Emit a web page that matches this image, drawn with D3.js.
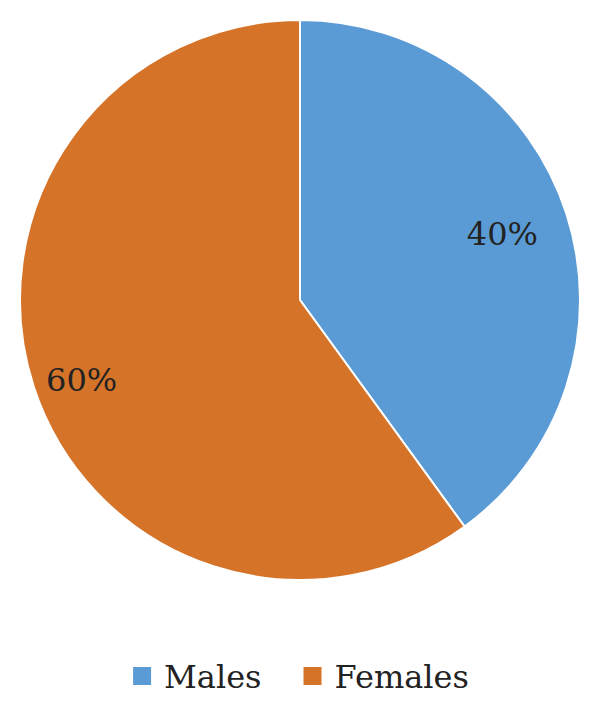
<!DOCTYPE html>
<html>
<head>
<meta charset="utf-8">
<script src="https://cdn.jsdelivr.net/npm/d3@7"></script>
<style>
  html, body { margin: 0; padding: 0; background: #fff; }
  svg { display: block; }
</style>
</head>
<body>
<svg id="chart" width="600" height="711"></svg>
<script>
const categories = ["Males", "Females"];
const values = [40, 60];
const labels = ["40%", "60%"];
const colors = ["#5B9BD5", "#D57328"];

const FONT = "DejaVu Serif";

const svg = d3.select("#chart");
const cx = 300, cy = 300, r = 280;

const pie = d3.pie().sort(null).value(d => d.value);
const data = categories.map((c, i) => ({ cat: c, value: values[i], label: labels[i], color: colors[i] }));
const arcs = pie(data);
const arc = d3.arc().innerRadius(0).outerRadius(r);

const g = svg.append("g").attr("transform", `translate(${cx},${cy})`);

g.selectAll("path")
  .data(arcs)
  .join("path")
  .attr("d", arc)
  .attr("fill", d => d.data.color)
  .attr("stroke", "#fff")
  .attr("stroke-width", 2)
  .attr("stroke-linejoin", "round");

const labelFactor = [0.76, 0.83];
const labelAngleShift = [0, -0.035];
g.selectAll("text.lbl")
  .data(arcs)
  .join("text")
  .attr("class", "lbl")
  .attr("x", (d, i) => {
    const a = (d.startAngle + d.endAngle) / 2 + labelAngleShift[i];
    return Math.sin(a) * r * labelFactor[i];
  })
  .attr("y", (d, i) => {
    const a = (d.startAngle + d.endAngle) / 2 + labelAngleShift[i];
    return -Math.cos(a) * r * labelFactor[i];
  })
  .attr("text-anchor", "middle")
  .attr("dominant-baseline", "central")
  .attr("font-family", FONT)
  .attr("fill", "#222")
  .attr("font-size", 32)
  .text(d => d.data.label);

// Legend
const legend = svg.append("g").attr("class", "legend");
const items = legend.selectAll("g")
  .data(data)
  .join("g");

items.append("rect")
  .attr("width", 18)
  .attr("height", 18)
  .attr("y", 667)
  .attr("fill", d => d.color);

items.append("text")
  .attr("x", 31)
  .attr("y", 688)
  .attr("font-family", FONT)
  .attr("fill", "#222")
  .attr("font-size", 32)
  .text(d => d.cat);

// layout legend items horizontally, centered
let widths = [];
items.each(function () { widths.push(this.getBBox().width); });
const gap = 42;
const total = d3.sum(widths) + gap * (widths.length - 1);
let x0 = 301 - total / 2;
items.attr("transform", (d, i) => {
  const t = `translate(${x0},0)`;
  x0 += widths[i] + gap;
  return t;
});
</script>
</body>
</html>
